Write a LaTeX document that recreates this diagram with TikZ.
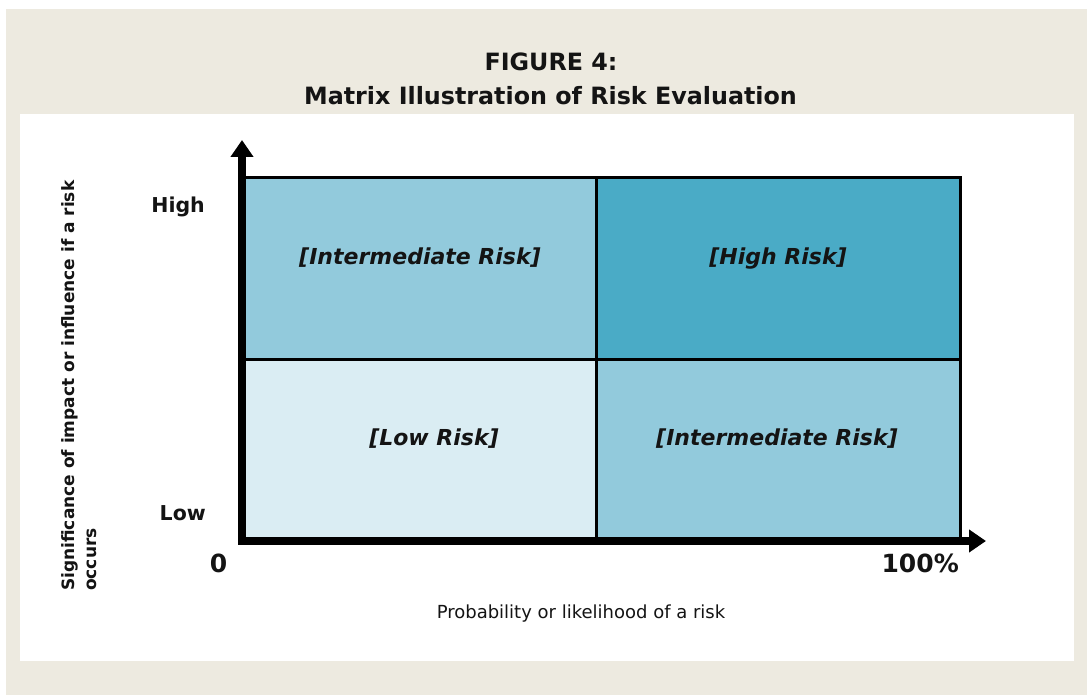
\documentclass[tikz,border=0pt]{standalone}
\usepackage{fontspec}
\setmainfont{DejaVu Sans}
\usetikzlibrary{arrows.meta}
\definecolor{beige}{HTML}{EDEAE0}
\definecolor{cellmid}{HTML}{92CADC}
\definecolor{cellhigh}{HTML}{4AABC6}
\definecolor{celllow}{HTML}{DAEDF3}
\definecolor{ink}{HTML}{141414}
\tikzset{
  titletext/.style={font=\fontsize{23.8}{28}\selectfont\bfseries, text=ink, inner sep=0pt},
  celltext/.style={font=\fontsize{22}{26}\selectfont\bfseries\itshape, text=ink, inner sep=0pt, anchor=base},
  ticktext/.style={font=\fontsize{20.5}{25}\selectfont\bfseries, text=ink, inner sep=0pt},
  endtext/.style={font=\fontsize{25}{28}\selectfont\bfseries, text=ink, inner sep=0pt},
  axislabel/.style={font=\fontsize{18}{22}\selectfont, text=ink, inner sep=0pt},
  gridline/.style={draw=black, line width=3pt},
  axisline/.style={draw=black, line width=8pt,
    arrows={Triangle[length=17pt,width=22pt]-Triangle[length=17pt,width=22pt]}}
}
\begin{document}
\begin{tikzpicture}[x=1pt,y=-1pt]
\useasboundingbox (0,0) rectangle (1087,695);
\fill[white] (0,0) rectangle (1087,695);
\fill[beige] (6,9) rectangle (1087,695);
\fill[white] (20,114) rectangle (1074,661);

% title
\node[titletext, anchor=base] (t1) at (551,71) {FIGURE 4:};
\node[titletext, anchor=base] (t2) at (550.5,105) {Matrix Illustration of Risk Evaluation};

% cells
\fill[cellmid]  (243,178) rectangle (596,359);
\fill[cellhigh] (596,178) rectangle (960,359);
\fill[celllow]  (243,359) rectangle (596,541);
\fill[cellmid]  (596,359) rectangle (960,541);
\draw[gridline] (243,178) rectangle (960,541);
\draw[gridline] (596,178) -- (596,541);
\draw[gridline] (243,359) -- (960,359);

% axes
\coordinate (o) at (242,541);
\coordinate (ytip) at (242,140);
\coordinate (xtip) at (986,541);
\draw[axisline] (ytip) -- (o) -- (xtip);

% cell labels
\node[celltext] (c1) at (420,265) {[Intermediate Risk]};
\node[celltext] (c2) at (778,265) {[High Risk]};
\node[celltext] (c3) at (434,445) {[Low Risk]};
\node[celltext] (c4) at (777,445) {[Intermediate Risk]};

% ticks
\node[ticktext, anchor=base east] (high) at (205,213) {High};
\node[ticktext, anchor=base east] (low) at (206,520) {Low};
\node[endtext, anchor=base] (zero) at (218.5,572) {0};
\node[endtext, anchor=base east] (full) at (959,572) {100\%};

% axis labels
\node[axislabel, anchor=base] (xl) at (581,618) {Probability or likelihood of a risk};
\node[font=\fontsize{17}{22}\selectfont\bfseries, text=ink, inner sep=0pt,
      rotate=90, anchor=north west, align=left] (yl) at (61,591)
  {Significance of impact or influence if a risk\\occurs};
\end{tikzpicture}
\end{document}
